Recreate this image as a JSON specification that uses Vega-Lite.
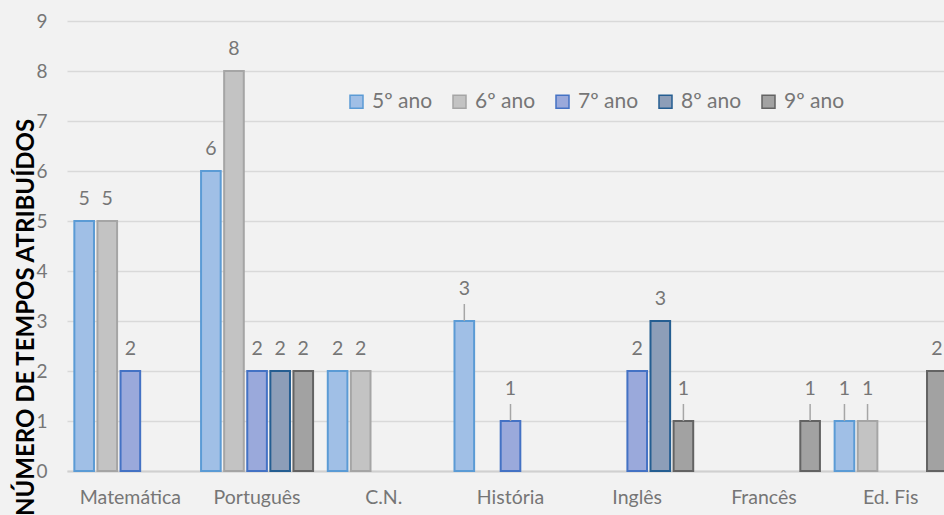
{
  "$schema": "https://vega.github.io/schema/vega-lite/v6.json",
  "width": 877,
  "height": 450,
  "autosize": {"type": "none"},
  "padding": {"left": 67, "top": 21, "right": 0, "bottom": 44},
  "background": "#f2f2f2",
  "config": {"view": {"stroke": null}, "font": "Lato"},
  "data": {
    "values": [
      {"subject": "Matemática", "year": "5º ano", "value": 5},
      {"subject": "Matemática", "year": "6º ano", "value": 5},
      {"subject": "Matemática", "year": "7º ano", "value": 2},
      {"subject": "Português", "year": "5º ano", "value": 6},
      {"subject": "Português", "year": "6º ano", "value": 8},
      {"subject": "Português", "year": "7º ano", "value": 2},
      {"subject": "Português", "year": "8º ano", "value": 2},
      {"subject": "Português", "year": "9º ano", "value": 2},
      {"subject": "C.N.", "year": "5º ano", "value": 2},
      {"subject": "C.N.", "year": "6º ano", "value": 2},
      {"subject": "História", "year": "5º ano", "value": 3},
      {"subject": "História", "year": "7º ano", "value": 1},
      {"subject": "Inglês", "year": "7º ano", "value": 2},
      {"subject": "Inglês", "year": "8º ano", "value": 3},
      {"subject": "Inglês", "year": "9º ano", "value": 1},
      {"subject": "Francês", "year": "9º ano", "value": 1},
      {"subject": "Ed. Fis", "year": "5º ano", "value": 1},
      {"subject": "Ed. Fis", "year": "6º ano", "value": 1},
      {"subject": "Ed. Fis", "year": "9º ano", "value": 2}
    ]
  },
  "encoding": {
    "x": {
      "field": "subject",
      "type": "nominal",
      "sort": ["Matemática", "Português", "C.N.", "História", "Inglês", "Francês", "Ed. Fis"],
      "scale": {"range": [0, 887], "paddingInner": 0.116, "paddingOuter": 0.058},
      "axis": {
        "title": null,
        "labelAngle": 0,
        "labelFontSize": 19.5,
        "labelColor": "#767676",
        "labelPadding": 17,
        "ticks": false,
        "domainColor": "#d0d0d0",
        "domainWidth": 2
      }
    },
    "xOffset": {
      "field": "year",
      "type": "nominal",
      "sort": ["5º ano", "6º ano", "7º ano", "8º ano", "9º ano"],
      "scale": {"paddingInner": 0.15, "paddingOuter": 0}
    },
    "y": {
      "field": "value",
      "type": "quantitative",
      "scale": {"domain": [0, 9], "nice": false},
      "axis": {
        "values": [0, 1, 2, 3, 4, 5, 6, 7, 8, 9],
        "domain": false,
        "ticks": false,
        "gridColor": "#d9d9d9",
        "gridWidth": 1.5,
        "labelFontSize": 19,
        "labelColor": "#767676",
        "labelPadding": 20,
        "title": "NÚMERO DE TEMPOS ATRIBUÍDOS",
        "titleFontSize": 24,
        "titleFontWeight": "bold",
        "titleColor": "#000000",
        "titleX": -29,
        "titleY": 296
      }
    }
  },
  "layer": [
    {
      "mark": {"type": "bar", "strokeWidth": 2},
      "encoding": {
        "fill": {
          "field": "year",
          "type": "nominal",
          "sort": ["5º ano", "6º ano", "7º ano", "8º ano", "9º ano"],
          "scale": {"range": ["#a0bfe6", "#c3c3c3", "#9aa9db", "#8d9eb8", "#a2a2a2"]},
          "legend": {
            "title": null,
            "orient": "none",
            "direction": "horizontal",
            "legendX": 279,
            "legendY": 70,
            "padding": 0,
            "symbolType": "square",
            "symbolSize": 169,
            "symbolStrokeWidth": 1.5,
            "labelFontSize": 21,
            "labelColor": "#767676",
            "labelOffset": 5,
            "columnPadding": 16,
            "encode": {
              "symbols": {"update": {"stroke": {"scale": "stroke", "field": "value"}}}
            }
          }
        },
        "stroke": {
          "field": "year",
          "type": "nominal",
          "sort": ["5º ano", "6º ano", "7º ano", "8º ano", "9º ano"],
          "scale": {"range": ["#5b9bd5", "#a5a5a5", "#4472c4", "#255e91", "#636363"]},
          "legend": null
        }
      }
    },
    {
      "transform": [{"filter": "!(datum.subject === 'História' || datum.value === 1)"}],
      "mark": {"type": "text", "baseline": "middle", "dy": -22, "fontSize": 19.5, "color": "#767676"},
      "encoding": {"text": {"field": "value", "type": "quantitative"}}
    },
    {
      "transform": [{"filter": "datum.subject === 'História' || datum.value === 1"}],
      "mark": {"type": "text", "baseline": "middle", "dy": -32, "fontSize": 19.5, "color": "#767676"},
      "encoding": {"text": {"field": "value", "type": "quantitative"}}
    },
    {
      "transform": [{"filter": "datum.subject === 'História' || datum.value === 1"}],
      "mark": {"type": "rule", "color": "#a6a6a6", "strokeWidth": 1.5, "yOffset": -17},
      "encoding": {"y2": {"field": "value"}}
    }
  ]
}
